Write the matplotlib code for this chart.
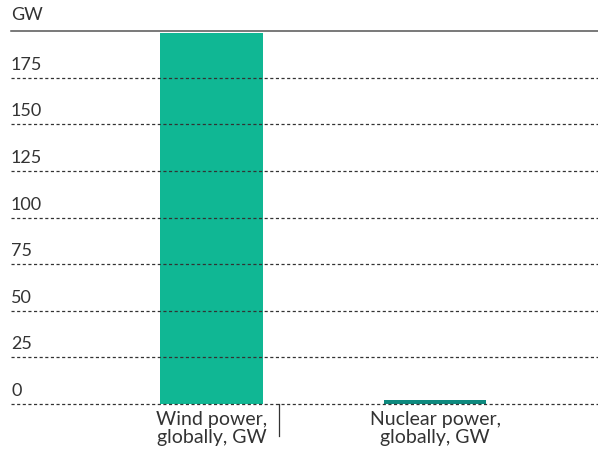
import matplotlib.pyplot as plt
from matplotlib.transforms import offset_copy

plt.rcParams["font.family"] = ["Lato", "DejaVu Sans"]

categories = ["Wind power,\nglobally, GW", "Nuclear power,\nglobally, GW"]
capacity_gw = [199, 2]
bar_colors = ["#10b794", "#0e8a7f"]
y_ticks = [0, 25, 50, 75, 100, 125, 150, 175]

W, H = 598, 459
fig = plt.figure(figsize=(W / 100, H / 100), dpi=100)
ax = fig.add_axes([11 / W, (H - 404) / H, (W - 11) / W, (404 - 31.2) / H])

x = list(range(len(categories)))
ax.bar(x, capacity_gw, width=0.46, color=bar_colors, zorder=1)

ax.set_xlim(-0.897, 1.729)
ax.set_ylim(0, 200)

# dashed gridlines with the value written just above each one
for v in y_ticks:
    ax.axhline(v, color="#333333", lw=0.9, ls=(0, (2.5, 2)), zorder=2, clip_on=False)
    ax.text(0, v, str(v), transform=offset_copy(ax.get_yaxis_transform(), fig=fig, x=0, y=5, units="dots"),
            ha="left", va="bottom", fontsize=13, color="#333333")
ax.axhline(200, color="#555555", lw=1.1, zorder=2, clip_on=False)
ax.text(0, 200, "GW", transform=offset_copy(ax.get_yaxis_transform(), fig=fig, x=0, y=8, units="dots"),
        ha="left", va="bottom", fontsize=13, color="#333333")

# category labels and divider
for xi, label in zip(x, categories):
    ax.text(xi, 0, label, transform=offset_copy(ax.get_xaxis_transform(), fig=fig, x=0, y=-7, units="dots"),
            ha="center", va="top", fontsize=14, color="#333333", linespacing=1.05)
ax.plot([0.3, 0.3], [0, -0.085], transform=ax.get_xaxis_transform(), color="#333333", lw=0.9, clip_on=False)

ax.axis("off")

plt.savefig("out.png", dpi=100)
